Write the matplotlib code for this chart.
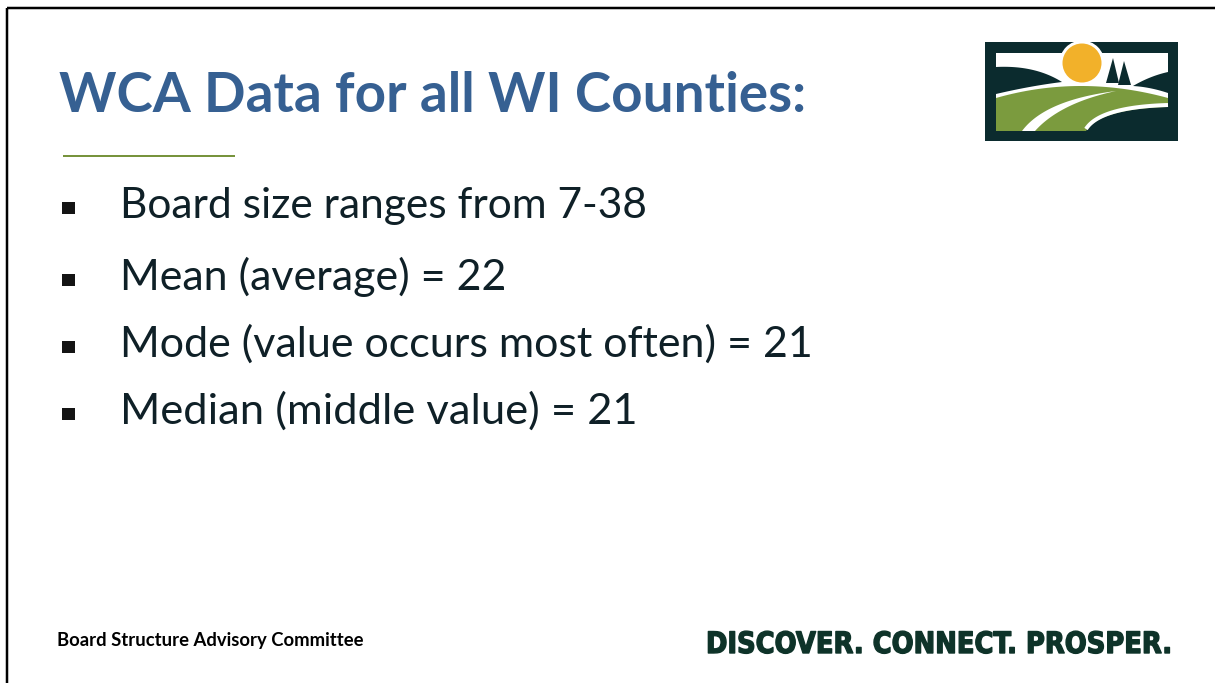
import matplotlib
matplotlib.use('Agg')
import matplotlib.pyplot as plt
import numpy as np
from matplotlib.patches import Rectangle, Circle, Polygon
from matplotlib import font_manager, patheffects
from matplotlib.transforms import Affine2D

W, H = 1215, 683
DPI = 100

# ---- content ----
title = "WCA Data for all WI Counties:"
bullets = [
    "Board size ranges from 7-38",
    "Mean (average) = 22",
    "Mode (value occurs most often) = 21",
    "Median (middle value) = 21",
]
bullet_right_edges = [648, 507, 816, 638]
bullet_baselines = [218, 290, 357, 424]
footer_left = "Board Structure Advisory Committee"
footer_right = "DISCOVER. CONNECT. PROSPER."

TITLE_C = '#366092'
TEXT_C = '#0F2027'
GREEN_LINE = '#77933C'
DARK = '#0B2B2E'
GREEN = '#7B9B3E'
SUN = '#F2B12A'
SLOGAN_C = '#0E3329'

fig = plt.figure(figsize=(W / DPI, H / DPI), dpi=DPI)
fig.patch.set_facecolor('white')
ax = fig.add_axes([0, 0, 1, 1])
ax.set_xlim(0, W)
ax.set_ylim(H, 0)
ax.axis('off')
renderer = fig.canvas.get_renderer()

installed = {f.name for f in font_manager.fontManager.ttflist}
BODY = 'Lato' if 'Lato' in installed else 'DejaVu Sans'


class XScale(patheffects.AbstractPathEffect):
    """Condense glyphs horizontally around a fixed x (display px), with an optional outline."""

    def __init__(self, sx, x0, stroke=0.0, color='black'):
        super().__init__()
        self.sx, self.x0, self.stroke, self.color = sx, x0, stroke, color

    def draw_path(self, renderer, gc, tpath, affine, rgbFace=None):
        t = affine + Affine2D().translate(-self.x0, 0).scale(self.sx, 1).translate(self.x0, 0)
        if self.stroke > 0:
            gc0 = renderer.new_gc()
            gc0.copy_properties(gc)
            gc0.set_linewidth(self.stroke)
            gc0.set_foreground(self.color)
            gc0.set_joinstyle('round')
            renderer.draw_path(gc0, tpath, t, rgbFace)
            gc0.restore()
        else:
            renderer.draw_path(gc, tpath, t, rgbFace)


def fit(s, x0, x1, y, **kw):
    """Size text so it spans x0..x1."""
    t = ax.text(x0, y, s, fontsize=20, ha='left', va='baseline', **kw)
    w = t.get_window_extent(renderer).width
    t.set_fontsize(20 * (x1 - x0) / w)
    return t


def fit_condensed(s, x0, x1, y, cap, ratio, stroke=0.0, **kw):
    """Size text by cap height, then condense it to span x0..x1."""
    fs = cap / ratio * 72 / DPI
    t = ax.text(x1, y, s, fontsize=fs, ha='right', va='baseline', **kw)
    w = t.get_window_extent(renderer).width
    t.set_path_effects([XScale((x1 - x0) / w, x1, stroke, kw.get('color', 'black'))])
    return t


px = 72 / DPI  # points per pixel

# slide border (top + left)
ax.plot([7, W], [8, 8], color='black', lw=2.5 * px, solid_capstyle='butt')
ax.plot([7, 7], [8, H], color='black', lw=2.5 * px, solid_capstyle='butt')

# title
fit(title, 59, 806, 112, family=BODY, weight='bold', color=TITLE_C)
ax.plot([63, 235], [156, 156], color=GREEN_LINE, lw=2 * px, solid_capstyle='butt')

# bullets
for s, xr, yb in zip(bullets, bullet_right_edges, bullet_baselines):
    ax.add_patch(Rectangle((62, yb - 16), 13, 12, facecolor='#141414', edgecolor='none'))
    fit(s, 120, xr, yb, family=BODY, color=TEXT_C)

# footers
fit(footer_left, 57, 363, 646, family=BODY, weight='bold', color='black')
fit_condensed(footer_right, 706, 1173, 653, 21.5, 0.729, stroke=1.4 * px,
              family='DejaVu Sans', weight='bold', color=SLOGAN_C)


# ---- logo ----
def qbez(p0, p1, p2, n=40):
    t = np.linspace(0, 1, n)[:, None]
    p0, p1, p2 = map(np.asarray, (p0, p1, p2))
    return (1 - t) ** 2 * p0 + 2 * (1 - t) * t * p1 + t ** 2 * p2


ax.add_patch(Rectangle((985, 42), 193, 99, facecolor=DARK, edgecolor='none'))
ax.add_patch(Rectangle((996, 53), 172, 78, facecolor='white', edgecolor='none'))
ax.add_patch(Circle((1082, 63), 22.5, facecolor='white', edgecolor='none'))
ax.add_patch(Circle((1082, 63), 19.5, facecolor=SUN, edgecolor='none'))

# left dark mound
lm = np.vstack([qbez((996, 67), (1035, 65), (1062, 82)),
                qbez((1062, 82), (1030, 86), (996, 94))])
ax.add_patch(Polygon(lm, closed=True, facecolor=DARK, edgecolor='none'))
# right dark mound
rm = np.vstack([qbez((1133, 86), (1150, 76), (1168, 72)),
                [[1168, 93]],
                qbez((1168, 93), (1150, 87), (1133, 86))])
ax.add_patch(Polygon(rm, closed=True, facecolor=DARK, edgecolor='none'))
# trees
ax.add_patch(Polygon([(1106, 83), (1113, 58), (1119, 83)], closed=True, facecolor=DARK, edgecolor='none'))
ax.add_patch(Polygon([(1118, 85), (1124, 61), (1131, 85)], closed=True, facecolor=DARK, edgecolor='none'))

# green field
gf = np.vstack([qbez((996, 98), (1080, 74), (1168, 98)),
                [[1168, 131], [996, 131]]])
ax.add_patch(Polygon(gf, closed=True, facecolor=GREEN, edgecolor='none'))
# white road
road = np.vstack([qbez((1022, 131), (1045, 100), (1116, 91)),
                  qbez((1116, 91), (1060, 103), (1035, 131))])
ax.add_patch(Polygon(road, closed=True, facecolor='white', edgecolor='none'))
# dark lower-right field with white gap
top = qbez((1086, 131), (1100, 109), (1168, 107))
ax.plot(top[:, 0], top[:, 1] - 2, color='white', lw=4 * px, solid_capstyle='butt')
br = np.vstack([top, [[1168, 131]]])
ax.add_patch(Polygon(br, closed=True, facecolor=DARK, edgecolor='none'))

fig.savefig('out.png', dpi=DPI, facecolor='white')
